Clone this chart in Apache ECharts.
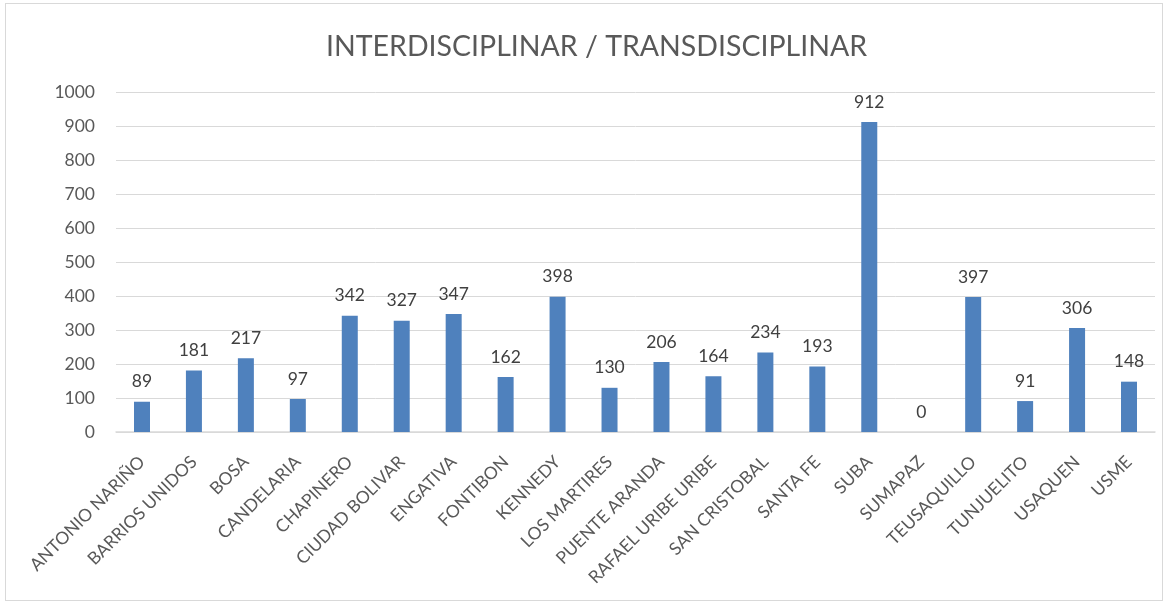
<!DOCTYPE html>
<html>
<head>
<meta charset="utf-8">
<script src="https://cdn.jsdelivr.net/npm/echarts@6/dist/echarts.min.js"></script>
<style>
  html, body { margin: 0; padding: 0; background: #fff; }
  #frame { position: absolute; left: 5px; top: 3px; width: 1158px; height: 598px; border: 1px solid #d9d9d9; box-sizing: border-box; }
  #main { width: 1169px; height: 606px; }
</style>
</head>
<body>
<div id="frame"></div>
<div id="main"></div>
<script>
// localidades
const localidades = ['ANTONIO NARIÑO', 'BARRIOS UNIDOS', 'BOSA', 'CANDELARIA', 'CHAPINERO', 'CIUDAD BOLIVAR',
  'ENGATIVA', 'FONTIBON', 'KENNEDY', 'LOS MARTIRES', 'PUENTE ARANDA', 'RAFAEL URIBE URIBE',
  'SAN CRISTOBAL', 'SANTA FE', 'SUBA', 'SUMAPAZ', 'TEUSAQUILLO', 'TUNJUELITO', 'USAQUEN', 'USME']
// valores
const valores = [89, 181, 217, 97, 342, 327, 347, 162, 398, 130, 206, 164, 234, 193, 912, 0, 397, 91, 306, 148]
// ticks eje y
const yMin = 0
const yMax = 1000
const yStep = 100

const myChart = echarts.init(document.querySelector('#main'))
const option = {
  textStyle: { fontFamily: 'Lato, "Liberation Sans", sans-serif' },
  title: {
    text: 'INTERDISCIPLINAR / TRANSDISCIPLINAR',
    left: 321,
    top: 27,
    textStyle: { fontSize: 28.5, fontWeight: 'normal', color: '#595959', fontFamily: 'Lato' }
  },
  grid: { left: 116, right: 14, top: 92, bottom: 174 },
  xAxis: {
    type: 'category',
    data: localidades,
    axisTick: { show: false },
    axisLine: { lineStyle: { color: '#d9d9d9', width: 1.5 } },
    axisLabel: { rotate: 45, interval: 0, fontSize: 17.5, color: '#595959', margin: 27 }
  },
  yAxis: {
    type: 'value',
    min: yMin,
    max: yMax,
    interval: yStep,
    axisLine: { show: false },
    axisTick: { show: false },
    splitLine: { lineStyle: { color: '#d9d9d9', width: 1 } },
    axisLabel: { fontSize: 17.5, color: '#595959', margin: 21, formatter: v => String(v) }
  },
  series: [
    {
      type: 'bar',
      data: valores,
      barWidth: 16,
      itemStyle: { color: '#4f81bd' },
      label: { show: true, position: 'top', fontSize: 17.5, color: '#404040', distance: 11 }
    }
  ]
}
myChart.setOption(option)
</script>
</body>
</html>
